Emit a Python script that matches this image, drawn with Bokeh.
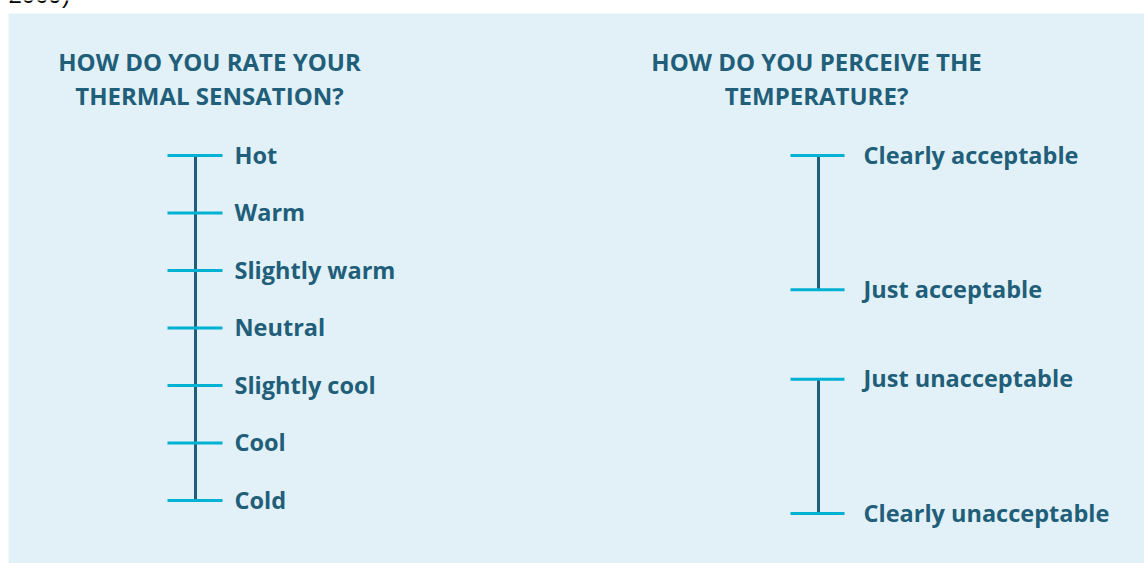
from bokeh.plotting import figure
from bokeh.models import Range1d
from bokeh.core.properties import value
from bokeh.embed import file_html
from bokeh.resources import INLINE

# ---- data ----
left_title = ["HOW DO YOU RATE YOUR", "THERMAL SENSATION?"]
left_labels = ["Hot", "Warm", "Slightly warm", "Neutral", "Slightly cool", "Cool", "Cold"]
left_levels = [3, 2, 1, 0, -1, -2, -3]

right_title = ["HOW DO YOU PERCEIVE THE", "TEMPERATURE?"]
right_labels = ["Clearly acceptable", "Just acceptable", "Just unacceptable", "Clearly unacceptable"]
right_levels = [2, 0.5, -0.5, -2]
right_group_start = [2, -0.5]
right_group_end = [0.5, -2]

caption_tail = "2009)"

# ---- layout ----
W, H = 1144, 563
L_PX = 57.5           # pixels per left-scale unit
L_TOP_LEVEL_PX = 155  # px from top where level 3 sits
R_PX = 89.5
R_ZERO_PX = 334

ly_top = 3 + L_TOP_LEVEL_PX / L_PX
ly_bot = ly_top - H / L_PX
ry_top = R_ZERO_PX / R_PX
ry_bot = ry_top - H / R_PX


def fy(page_y):
    return ly_top - page_y / L_PX


DARK = "#215e79"
CYAN = "#00b1d4"
PANEL = "#e1f1f7"
FONT = value("Open Sans")
FS = "23.5px"
TFS = "24px"

p = figure(width=W, height=H, x_range=Range1d(0, W), y_range=Range1d(ly_bot, ly_top),
           output_backend="svg", toolbar_location=None, min_border=0)
p.extra_y_ranges = {"right": Range1d(ry_bot, ry_top)}
p.xaxis.visible = False
p.yaxis.visible = False
p.grid.visible = False
p.outline_line_color = None
p.background_fill_color = "white"
p.border_fill_color = "white"

# panel
p.quad(left=[8], right=[W + 20], top=[fy(13)], bottom=[ly_bot - 2], fill_color=PANEL, line_color=None)

# caption fragment above panel
p.text(x=[8], y=[fy(-6)], text=[caption_tail], text_font=value("Liberation Sans"),
       text_font_size="24px", text_color="black", text_baseline="alphabetic")

# titles
for i, t in enumerate(left_title):
    p.text(x=[209], y=[fy(61 + 34 * i)], text=[t], text_font=FONT, text_font_style="bold",
           text_font_size=TFS, text_color=DARK, text_align="center", text_baseline="alphabetic")
for i, t in enumerate(right_title):
    p.text(x=[816], y=[fy(61 + 34 * i)], text=[t], text_font=FONT, text_font_style="bold",
           text_font_size=TFS, text_color=DARK, text_align="center", text_baseline="alphabetic")

# left scale
p.segment(x0=[195], x1=[195], y0=[max(left_levels)], y1=[min(left_levels)],
          line_color=DARK, line_width=3)
p.segment(x0=[167] * len(left_levels), x1=[222] * len(left_levels),
          y0=left_levels, y1=left_levels, line_color=CYAN, line_width=3)
p.text(x=[234] * len(left_levels), y=left_levels, text=left_labels, text_font=FONT,
       text_font_style="bold", text_font_size=FS, text_color=DARK,
       text_baseline="alphabetic", y_offset=-1)

# right scale
p.segment(x0=[818] * 2, x1=[818] * 2, y0=right_group_start, y1=right_group_end,
          line_color=DARK, line_width=3, y_range_name="right")
p.segment(x0=[790] * len(right_levels), x1=[844] * len(right_levels),
          y0=right_levels, y1=right_levels, line_color=CYAN, line_width=3, y_range_name="right")
p.text(x=[863] * len(right_levels), y=right_levels, text=right_labels, text_font=FONT,
       text_font_style="bold", text_font_size=FS, text_color=DARK,
       text_baseline="alphabetic", y_offset=-1, y_range_name="right")

open("out.html", "w").write(file_html(p, INLINE))
